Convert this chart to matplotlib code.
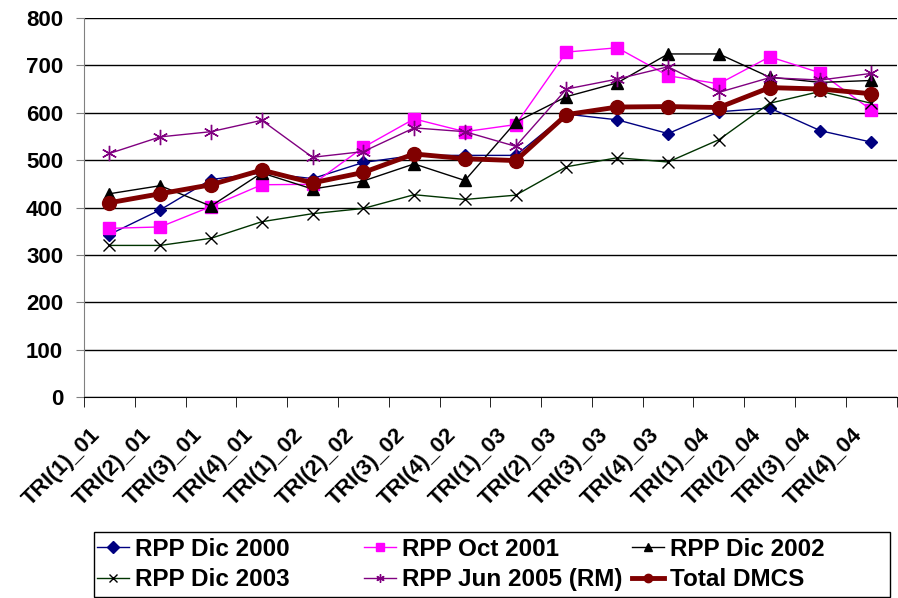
import matplotlib.pyplot as plt
import matplotlib.transforms as mtransforms
from matplotlib.patches import Rectangle
import numpy as np

plt.rcParams['font.family'] = ['Liberation Sans', 'DejaVu Sans']

periodos = ["TRI(1)_01", "TRI(2)_01", "TRI(3)_01", "TRI(4)_01",
            "TRI(1)_02", "TRI(2)_02", "TRI(3)_02", "TRI(4)_02",
            "TRI(1)_03", "TRI(2)_03", "TRI(3)_03", "TRI(4)_03",
            "TRI(1)_04", "TRI(2)_04", "TRI(3)_04", "TRI(4)_04"]

rpp_dic_2000 = [343, 395, 459, 473, 461, 495, 510, 510, 510, 597, 585, 556, 602, 610, 562, 538]
rpp_oct_2001 = [356, 359, 402, 448, 449, 527, 587, 560, 575, 728, 737, 678, 661, 718, 684, 606]
rpp_dic_2002 = [429, 446, 403, 473, 439, 456, 492, 457, 580, 634, 663, 724, 724, 675, 664, 668]
rpp_dic_2003 = [320, 320, 335, 370, 387, 398, 427, 417, 426, 486, 505, 496, 543, 620, 645, 620]
rpp_jun_2005 = [514, 549, 560, 584, 506, 518, 568, 560, 529, 650, 671, 697, 643, 674, 669, 683]
total_dmcs = [410, 429, 448, 479, 452, 474, 513, 503, 499, 596, 612, 613, 611, 653, 650, 640]

x = np.arange(len(periodos))

fig = plt.figure(figsize=(8.98, 5.98), dpi=100)
ax = fig.add_axes([0.0935, 0.336, 0.905, 0.634])

ax.plot(x, rpp_dic_2000, color='#000080', lw=1, marker='D', ms=6,
        mfc='#000080', mec='#000080', label='RPP Dic 2000')
ax.plot(x, rpp_oct_2001, color='#FF00FF', lw=1, marker='s', ms=8,
        mfc='#FF00FF', mec='#FF00FF', label='RPP Oct 2001')
ax.plot(x, rpp_dic_2002, color='black', lw=1, marker='^', ms=8,
        mfc='black', mec='black', label='RPP Dic 2002')
ax.plot(x, rpp_dic_2003, color='#003300', lw=1, marker='x', ms=9,
        mec='black', mew=1, label='RPP Dic 2003')
ax.plot(x, rpp_jun_2005, color='#800080', lw=1, marker=(6, 2, 0), ms=11,
        mec='#800080', mew=1, label='RPP Jun 2005 (RM)')
ax.plot(x, total_dmcs, color='#800000', lw=3.5, marker='o', ms=10,
        mfc='#800000', mec='#800000', label='Total DMCS')

ax.set_xlim(-0.5, len(periodos) - 0.5)
ax.set_ylim(0, 800)
ax.set_yticks(np.arange(0, 801, 100))
ax.yaxis.grid(True, color='black', lw=1)
ax.set_axisbelow(True)

for side in ('top', 'right'):
    ax.spines[side].set_visible(False)
ax.spines['left'].set_color('#808080')
ax.spines['bottom'].set_color('black')

ax.set_xticks(x)
ax.set_xticklabels(periodos, rotation=45, ha='right', va='center',
                   rotation_mode='anchor', fontsize=16, fontweight='bold')
ax.tick_params(axis='x', which='major', length=0, pad=25)
shift = mtransforms.ScaledTranslation(-12 / 100, 0, fig.dpi_scale_trans)
for lbl in ax.get_xticklabels():
    lbl.set_transform(lbl.get_transform() + shift)
ax.set_xticks(np.arange(-0.5, len(periodos), 1), minor=True)
ax.tick_params(axis='x', which='minor', length=7, direction='out', color='black')
ax.tick_params(axis='y', length=6, direction='out', color='#808080',
               labelsize=16, pad=9)
for lbl in ax.get_yticklabels():
    lbl.set_fontweight('bold')

# legend: three columns of two entries, with a single box round them
W, H = 898, 598
fig.add_artist(Rectangle((94 / W, 1 - 597 / H), (890 - 94) / W, (597 - 532) / H,
                         transform=fig.transFigure, fill=False,
                         edgecolor='black', lw=1))
handles, labels = ax.get_legend_handles_labels()
col_x = [97, 364, 632]
for c in range(3):
    idx = [c, c + 3]
    leg = fig.legend([handles[i] for i in idx], [labels[i] for i in idx],
                     loc='upper left', bbox_to_anchor=(col_x[c] / W, 1 - 538 / H),
                     frameon=False, prop={'size': 17.5, 'weight': 'bold'},
                     handlelength=1.3, handletextpad=0.25, borderpad=0,
                     borderaxespad=0, labelspacing=0.3)
    for h in leg.legend_handles:
        h.set_markersize(6)

fig.savefig('out.png', dpi=100)
